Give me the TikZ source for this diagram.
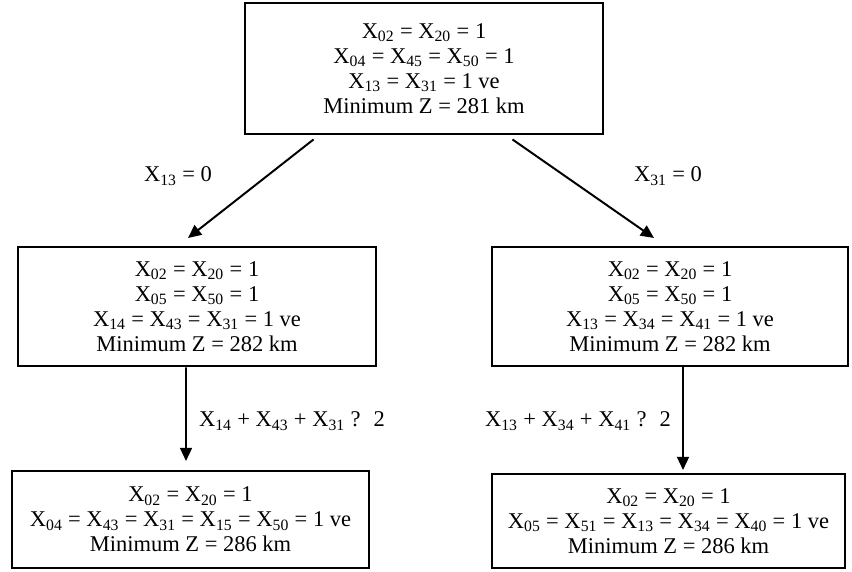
\documentclass[tikz,border=0pt]{standalone}
\usepackage{fontspec}
\setmainfont{Liberation Serif}
\usetikzlibrary{arrows.meta}

\newcommand{\xv}[1]{X\textsubscript{#1}}

\tikzset{
  box/.style={draw, line width=2.1pt, align=center, inner sep=0pt,
    font=\fontsize{16}{17.8}\selectfont},
  arr/.style={line width=1.4pt, -{Triangle[length=0.33cm,width=0.3cm]}},
  lbl/.style={font=\fontsize{16}{17.8}\selectfont}
}

\begin{document}
\begin{tikzpicture}
  \useasboundingbox (0,0) rectangle (21.3,14.3);

  \node[box, minimum width=8.95cm, minimum height=3.275cm] (top) at (10.6,12.5875)
    {\xv{02} = \xv{20} = 1\\ \xv{04} = \xv{45} = \xv{50} = 1\\ \xv{13} = \xv{31} = 1 ve\\ Minimum Z = 281 km};

  \node[box, minimum width=8.95cm, minimum height=2.975cm] (midL) at (4.925,6.6375)
    {\xv{02} = \xv{20} = 1\\ \xv{05} = \xv{50} = 1\\ \xv{14} = \xv{43} = \xv{31} = 1 ve\\ Minimum Z = 282 km};
  \node[box, minimum width=8.9cm, minimum height=2.975cm] (midR) at (16.75,6.6375)
    {\xv{02} = \xv{20} = 1\\ \xv{05} = \xv{50} = 1\\ \xv{13} = \xv{34} = \xv{41} = 1 ve\\ Minimum Z = 282 km};

  \node[box, minimum width=8.925cm, minimum height=2.425cm] (botL) at (4.7625,1.3125)
    {\xv{02} = \xv{20} = 1\\ \xv{04} = \xv{43} = \xv{31} = \xv{15} = \xv{50} = 1 ve\\ Minimum Z = 286 km};
  \node[box, minimum width=8.825cm, minimum height=2.35cm] (botR) at (16.7125,1.275)
    {\xv{02} = \xv{20} = 1\\ \xv{05} = \xv{51} = \xv{13} = \xv{34} = \xv{40} = 1 ve\\ Minimum Z = 286 km};

  \coordinate (tipA) at (4.7,8.35);
  \coordinate (tipB) at (16.35,8.35);
  \coordinate (tipC) at (4.65,2.775);
  \coordinate (tipD) at (17.075,2.55);

  \draw[arr] ([xshift=1.75cm,yshift=-0.1cm]top.south west) -- (tipA);
  \draw[arr] ([xshift=-2.3cm,yshift=-0.1cm]top.south east) -- (tipB);
  \draw[arr] ([xshift=-0.275cm]midL.south) -- (tipC);
  \draw[arr] ([xshift=0.325cm]midR.south) -- (tipD);

  \node[lbl] (cA) at (4.45,9.9) {\xv{13} = 0};
  \node[lbl] (cB) at (16.7,9.9) {\xv{31} = 0};
  \node[lbl] (cC) at (7.3,3.775) {\xv{14} + \xv{43} + \xv{31} ?~ 2};
  \node[lbl] (cD) at (14.45,3.775) {\xv{13} + \xv{34} + \xv{41} ?~ 2};
\end{tikzpicture}
\end{document}
